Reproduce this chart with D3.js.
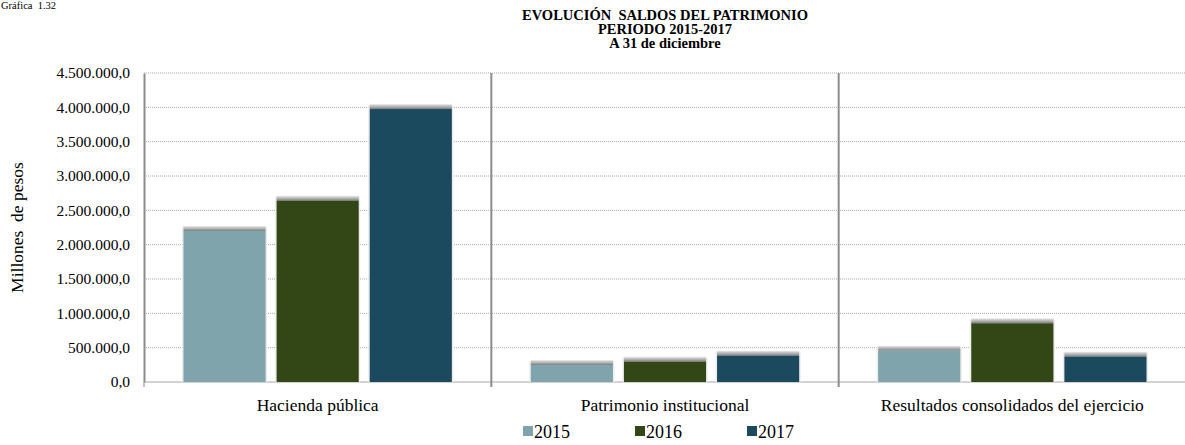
<!DOCTYPE html>
<html>
<head>
<meta charset="utf-8">
<script src="https://cdn.jsdelivr.net/npm/d3@7"></script>
<style>
  body { margin: 0; background: #fff; }
  text { font-family: "Liberation Serif", "DejaVu Serif", serif; fill: #000; white-space: pre; }
</style>
</head>
<body>
<div id="chart"></div>
<script>
// data
const categories = ["Hacienda pública", "Patrimonio institucional", "Resultados consolidados del ejercicio"];
const years = ["2015", "2016", "2017"];
const values2015 = [2200000, 248000, 456000];
const values2016 = [2640000, 296000, 855000];
const values2017 = [3975000, 383000, 369000];
const yTicks = [0, 500000, 1000000, 1500000, 2000000, 2500000, 3000000, 3500000, 4000000, 4500000];
const seriesColors = ["#7fa4ac", "#324715", "#1b4a5e"];

const width = 1185, height = 445;
const margin = { top: 73, right: -1, bottom: 63, left: 144 };

const svg = d3.select("#chart").append("svg")
  .attr("width", width)
  .attr("height", height);

const defs = svg.append("defs");
const shadowGrad = defs.append("linearGradient")
  .attr("id", "topShadow")
  .attr("x1", 0).attr("y1", 0).attr("x2", 0).attr("y2", 1);
shadowGrad.append("stop").attr("offset", "0%").attr("stop-color", "#bbb").attr("stop-opacity", 0.3);
shadowGrad.append("stop").attr("offset", "100%").attr("stop-color", "#777").attr("stop-opacity", 1);

const x0 = d3.scaleBand()
  .domain(categories)
  .range([margin.left, width - margin.right])
  .paddingInner(0)
  .paddingOuter(0);

const x1 = d3.scaleBand()
  .domain(years)
  .range([0, x0.bandwidth()])
  .paddingInner(0.118)
  .paddingOuter(0.424);

const y = d3.scaleLinear()
  .domain([0, 4500000])
  .range([height - margin.bottom, margin.top]);

const fmt = v => {
  const s = d3.format(",.1f")(v);
  return s.replace(/,/g, "#").replace(".", ",").replace(/#/g, ".");
};

// title
svg.append("text")
  .attr("x", 1).attr("y", 9)
  .attr("font-size", "10.5px")
  .text("Gráfica  1.32");

const titleLines = ["EVOLUCIÓN  SALDOS DEL PATRIMONIO", "PERIODO 2015-2017", "A 31 de diciembre"];
svg.selectAll(".title")
  .data(titleLines)
  .enter().append("text")
  .attr("class", "title")
  .attr("x", 665)
  .attr("y", (d, i) => 20 + i * 14)
  .attr("text-anchor", "middle")
  .attr("font-size", "14.5px")
  .attr("font-weight", "bold")
  .text(d => d);

// gridlines
svg.append("g")
  .selectAll("line")
  .data(yTicks.slice(1))
  .enter().append("line")
  .attr("x1", margin.left)
  .attr("x2", width)
  .attr("y1", d => y(d))
  .attr("y2", d => y(d))
  .attr("stroke", "#aaa")
  .attr("stroke-width", 1)
  .attr("stroke-dasharray", "1,1");

// y axis
const yAxis = svg.append("g")
  .attr("transform", `translate(${margin.left},0)`)
  .call(d3.axisLeft(y).tickValues(yTicks).tickFormat(fmt).tickSize(0).tickPadding(14));
yAxis.select(".domain").attr("stroke", "#8c8c8c").attr("stroke-width", 2);
yAxis.selectAll("text").attr("font-size", "15.5px").attr("font-family", "Liberation Serif, serif");

// baseline
svg.append("line")
  .attr("x1", margin.left).attr("x2", width)
  .attr("y1", y(0)).attr("y2", y(0))
  .attr("stroke", "#a6a6a6").attr("stroke-width", 1);

// category separators
svg.append("g")
  .selectAll("line")
  .data(categories.slice(1))
  .enter().append("line")
  .attr("x1", d => x0(d))
  .attr("x2", d => x0(d))
  .attr("y1", margin.top)
  .attr("y2", y(0) + 5)
  .attr("stroke", "#8c8c8c")
  .attr("stroke-width", 2);

svg.append("line")
  .attr("x1", margin.left).attr("x2", margin.left)
  .attr("y1", y(0)).attr("y2", y(0) + 5)
  .attr("stroke", "#8c8c8c").attr("stroke-width", 1);

// bars
const seriesValues = [values2015, values2016, values2017];
const barData = [];
categories.forEach((c, ci) => {
  years.forEach((yr, si) => {
    barData.push({ cat: c, year: yr, value: seriesValues[si][ci], color: seriesColors[si] });
  });
});

const bars = svg.append("g").selectAll("g")
  .data(barData)
  .enter().append("g");

// soft side glow
bars.append("rect")
  .attr("x", d => x0(d.cat) + x1(d.year) - 1.5)
  .attr("y", d => y(d.value) - 4)
  .attr("width", x1.bandwidth() + 3)
  .attr("height", d => y(0) - y(d.value) + 4)
  .attr("fill", "#ececec");

bars.append("rect")
  .attr("x", d => x0(d.cat) + x1(d.year))
  .attr("y", d => y(d.value) - 5)
  .attr("width", x1.bandwidth())
  .attr("height", 5)
  .attr("fill", "url(#topShadow)");

bars.append("rect")
  .attr("x", d => x0(d.cat) + x1(d.year))
  .attr("y", d => y(d.value))
  .attr("width", x1.bandwidth())
  .attr("height", d => y(0) - y(d.value))
  .attr("fill", d => d.color);

// category labels
svg.selectAll(".cat-label")
  .data(categories)
  .enter().append("text")
  .attr("class", "cat-label")
  .attr("x", d => x0(d) + x0.bandwidth() / 2)
  .attr("y", 411)
  .attr("text-anchor", "middle")
  .attr("font-size", "17.5px")
  .text(d => d);

// y axis title
svg.append("text")
  .attr("transform", `translate(23,${(margin.top + y(0)) / 2}) rotate(-90)`)
  .attr("text-anchor", "middle")
  .attr("font-size", "17.5px")
  .text("Millones  de pesos");

// legend
const legend = svg.append("g").selectAll("g")
  .data(years)
  .enter().append("g")
  .attr("transform", (d, i) => `translate(${523 + i * 112},426)`);
legend.append("rect")
  .attr("width", 10).attr("height", 10)
  .attr("fill", (d, i) => seriesColors[i]);
legend.append("text")
  .attr("x", 11).attr("y", 12)
  .attr("font-size", "18px")
  .text(d => d);
</script>
</body>
</html>
